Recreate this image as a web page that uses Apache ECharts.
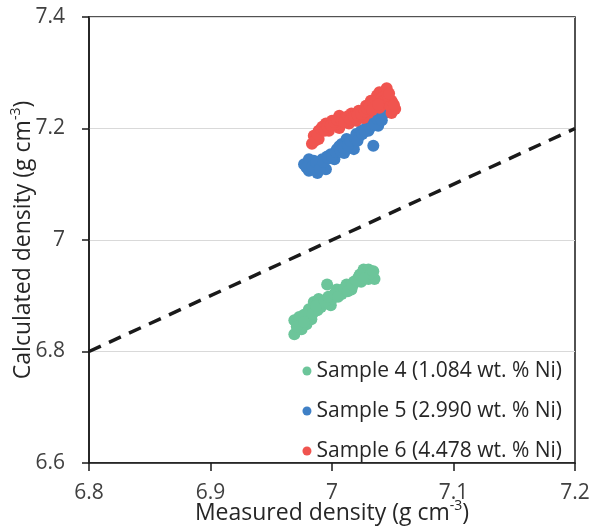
<!DOCTYPE html>
<html>
<head>
<meta charset="utf-8">
<script src="https://cdn.jsdelivr.net/npm/echarts@6/dist/echarts.min.js"></script>
<style>html,body{margin:0;padding:0;background:#fff}#c{width:599px;height:528px}</style>
</head>
<body>
<div id="c"></div>
<script>
var xTicks = [6.8, 6.9, 7.0, 7.1, 7.2];
var yTicks = [6.6, 6.8, 7.0, 7.2, 7.4];
var seriesNames = ['Sample 4 (1.084 wt. % Ni)', 'Sample 5 (2.990 wt. % Ni)', 'Sample 6 (4.478 wt. % Ni)'];

var sample4 = [
  [6.969, 6.831], [6.975, 6.840], [6.969, 6.856], [6.973, 6.862], [6.979, 6.849],
  [6.983, 6.858], [6.981, 6.876], [6.985, 6.889], [6.988, 6.874], [6.989, 6.894],
  [6.993, 6.885], [6.996, 6.920], [6.999, 6.883], [7.000, 6.894], [7.004, 6.911],
  [7.008, 6.903], [7.012, 6.920], [7.016, 6.911], [7.018, 6.925], [7.022, 6.934],
  [7.024, 6.925], [7.026, 6.947], [7.030, 6.947], [7.030, 6.930], [7.035, 6.930],
  [6.977, 6.866], [6.991, 6.880], [7.006, 6.907], [7.014, 6.917], [7.028, 6.940],
  [6.971, 6.845], [6.977, 6.853], [6.984, 6.868], [6.987, 6.882], [6.994, 6.890],
  [6.997, 6.898], [7.002, 6.903], [7.005, 6.898], [7.010, 6.913], [7.013, 6.908],
  [7.017, 6.919], [7.020, 6.928], [7.023, 6.938], [7.027, 6.932], [7.032, 6.940],
  [7.034, 6.944]
];
var sample5 = [
  [6.977, 7.136], [6.981, 7.124], [6.988, 7.120], [6.985, 7.142], [6.981, 7.145],
  [6.989, 7.136], [6.992, 7.145], [6.995, 7.127], [6.999, 7.154], [7.002, 7.145],
  [7.004, 7.163], [7.008, 7.172], [7.010, 7.156], [7.012, 7.181], [7.016, 7.174],
  [7.018, 7.163], [7.020, 7.190], [7.024, 7.196], [7.028, 7.201], [7.032, 7.209],
  [7.036, 7.214], [7.040, 7.223], [7.043, 7.228], [7.044, 7.232], [7.034, 7.169],
  [6.996, 7.150], [7.006, 7.168], [7.022, 7.185], [7.030, 7.196], [7.038, 7.205],
  [6.979, 7.130], [6.984, 7.132], [6.987, 7.139], [6.990, 7.128], [6.993, 7.140],
  [6.997, 7.146], [7.000, 7.150], [7.003, 7.158], [7.007, 7.160], [7.009, 7.166],
  [7.013, 7.170], [7.015, 7.178], [7.019, 7.182], [7.021, 7.178], [7.025, 7.190],
  [7.027, 7.195], [7.031, 7.201], [7.033, 7.205], [7.035, 7.207], [7.037, 7.218],
  [7.041, 7.215], [7.042, 7.226]
];
var sample6 = [
  [6.9835, 7.1725], [6.985, 7.187], [6.989, 7.196], [6.989, 7.181], [6.995, 7.209],
  [6.9975, 7.196], [7.000, 7.214], [7.006, 7.223], [7.006, 7.201], [7.011, 7.219],
  [7.014, 7.209], [7.016, 7.227], [7.020, 7.214], [7.022, 7.232], [7.026, 7.219],
  [7.028, 7.241], [7.030, 7.228], [7.032, 7.250], [7.037, 7.259], [7.039, 7.265],
  [7.039, 7.237], [7.043, 7.265], [7.044, 7.245], [7.045, 7.272], [7.049, 7.250],
  [7.049, 7.228], [7.052, 7.235], [7.050, 7.245], [6.992, 7.203], [7.003, 7.208],
  [6.986, 7.178], [6.988, 7.190], [6.991, 7.199], [6.994, 7.196], [6.996, 7.204],
  [6.999, 7.206], [7.002, 7.212], [7.004, 7.216], [7.008, 7.214], [7.010, 7.212],
  [7.013, 7.222], [7.015, 7.216], [7.018, 7.221], [7.021, 7.224], [7.024, 7.226],
  [7.027, 7.230], [7.029, 7.236], [7.031, 7.240], [7.034, 7.245], [7.036, 7.250],
  [7.041, 7.255], [7.042, 7.249], [7.046, 7.258], [7.047, 7.263], [7.048, 7.240],
  [7.051, 7.242], [7.033, 7.233], [7.038, 7.243]
];
var oneToOne = [[6.8, 6.8], [7.2, 7.2]];

var colors = ['#6cc59a', '#3f80c6', '#f0544f'];
var font = 'Open Sans';

var chart = echarts.init(document.getElementById('c'), null, {renderer: 'canvas'});
var supRich = {
  n: {fontFamily: font, fontSize: 23, color: '#262626', lineHeight: 28},
  s: {fontFamily: font, fontSize: 14, color: '#262626', verticalAlign: 'top', lineHeight: 14}
};
chart.setOption({
  animation: false,
  backgroundColor: '#fff',
  grid: {left: 89, right: 24, top: 17, bottom: 65, show: true, borderColor: '#1a1a1a', borderWidth: 1.5,
    containLabel: false, outerBoundsMode: 'none'},
  xAxis: {
    type: 'value', min: xTicks[0], max: xTicks[xTicks.length - 1], interval: 0.1,
    axisLine: {show: true, onZero: false, lineStyle: {color: '#1a1a1a', width: 1.5}},
    axisTick: {show: true, inside: false, length: 8, lineStyle: {color: '#1a1a1a', width: 1.5}},
    axisLabel: {fontFamily: font, fontSize: 21, color: '#404040', margin: 20,
      formatter: function (v) { return String(+v.toFixed(1)); }},
    splitLine: {show: false},
    name: '{n|Measured density (g cm}{s|-3}{n|)}',
    nameLocation: 'middle', nameGap: 36, nameMoveOverlap: false,
    nameTextStyle: {rich: supRich}
  },
  yAxis: {
    type: 'value', min: yTicks[0], max: yTicks[yTicks.length - 1], interval: 0.2,
    axisLine: {show: true, onZero: false, lineStyle: {color: '#1a1a1a', width: 1.5}},
    axisTick: {show: true, inside: false, length: 7, lineStyle: {color: '#1a1a1a', width: 1.5}},
    axisLabel: {fontFamily: font, fontSize: 21, color: '#404040', margin: 24,
      formatter: function (v) { return String(+v.toFixed(1)); }},
    splitLine: {show: true, lineStyle: {color: '#d9d9d9', width: 1.2}},
    name: '{n|Calculated density (g cm}{s|-3}{n|)}',
    nameLocation: 'middle', nameGap: 52, nameRotate: 90, nameMoveOverlap: false,
    nameTextStyle: {rich: supRich}
  },
  legend: {
    orient: 'vertical', right: 32, top: 355,
    itemWidth: 9, itemHeight: 9, itemGap: 18,
    icon: 'circle',
    data: seriesNames,
    textStyle: {fontFamily: font, fontSize: 21, color: '#262626', lineHeight: 22}
  },
  series: [
    {name: seriesNames[0], type: 'scatter', data: sample4, symbolSize: 12, itemStyle: {color: colors[0], opacity: 1}},
    {name: seriesNames[1], type: 'scatter', data: sample5, symbolSize: 12, itemStyle: {color: colors[1], opacity: 1}},
    {name: seriesNames[2], type: 'scatter', data: sample6, symbolSize: 12, itemStyle: {color: colors[2], opacity: 1}},
    {name: '1:1', type: 'line', data: oneToOne, symbol: 'none', silent: true,
      lineStyle: {color: '#1a1a1a', width: 3.5, type: [13, 9]}}
  ]
});
</script>
</body>
</html>
